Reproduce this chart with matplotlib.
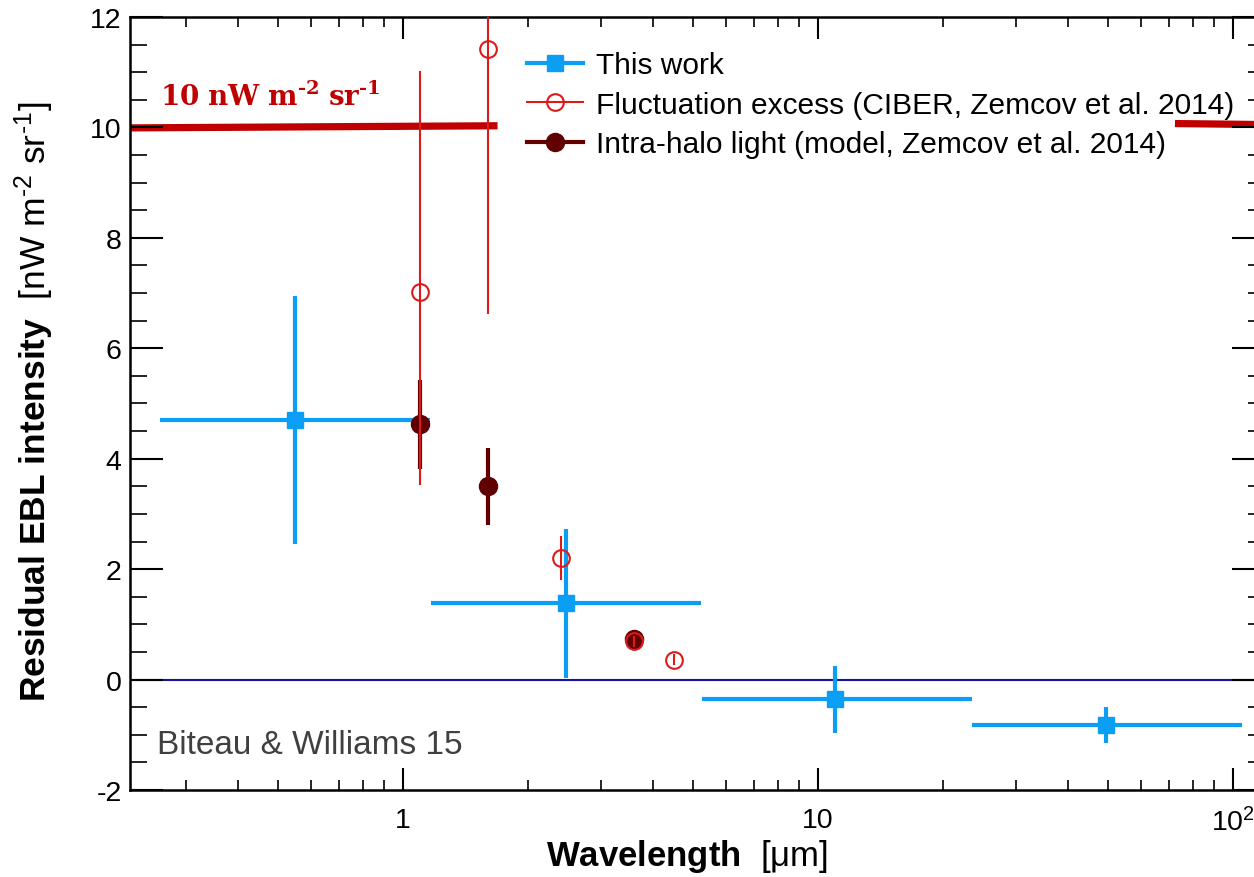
import matplotlib
matplotlib.use("Agg")
import matplotlib.pyplot as plt
from matplotlib.lines import Line2D
from matplotlib.ticker import FixedLocator, MultipleLocator, LogLocator, NullFormatter

plt.rcParams['font.family'] = ['Liberation Sans', 'DejaVu Sans']
plt.rcParams['mathtext.fontset'] = 'custom'
plt.rcParams['mathtext.rm'] = 'Liberation Sans'
plt.rcParams['mathtext.bf'] = 'Liberation Sans:bold'
plt.rcParams['mathtext.it'] = 'Liberation Sans:italic'
plt.rcParams['axes.unicode_minus'] = False

# This work (blue squares)
tw_x = [0.55, 2.47, 11.0, 49.4]
tw_y = [4.7, 1.38, -0.36, -0.82]
tw_yerr = [2.25, 1.35, 0.6, 0.33]
tw_xlo = [0.26, 1.17, 5.25, 23.5]
tw_xhi = [1.16, 5.22, 23.5, 105.0]

# Fluctuation excess (CIBER, Zemcov et al. 2014)
fe_x = [1.1, 1.6, 2.4, 3.6, 4.5]
fe_y = [7.02, 11.42, 2.2, 0.69, 0.36]
fe_err_lo = [3.5, 4.8, 0.4, 0.1, 0.1]
fe_err_hi = [4.0, 4.8, 0.4, 0.1, 0.1]

# Intra-halo light (model, Zemcov et al. 2014)
ihl_x = [1.1, 1.6, 3.6]
ihl_y = [4.62, 3.5, 0.73]
ihl_err = [0.8, 0.7, 0.1]

# 10 nW m-2 sr-1 reference segments
ref_left_x = [0.2, 1.69]
ref_left_y = [9.99, 10.03]
ref_right_x = [72.5, 125.0]
ref_right_y = [10.07, 10.05]

blue = '#0a9ff5'
red = '#dd1a1a'
dark = '#600000'
refred = '#c00000'

fig = plt.figure(figsize=(12.54, 8.78), dpi=100)
ax = fig.add_axes([0.10367, 0.0991, 0.9051, 0.8804])

ax.axhline(0, color='#1414a0', lw=1.5, zorder=1)

ax.plot(ref_left_x, ref_left_y, color=refred, lw=5.2, solid_capstyle='butt', zorder=1.5)
ax.plot(ref_right_x, ref_right_y, color=refred, lw=5.2, solid_capstyle='butt', zorder=1.5)

xerr = [[x - lo for x, lo in zip(tw_x, tw_xlo)], [hi - x for x, hi in zip(tw_x, tw_xhi)]]
ax.errorbar(tw_x, tw_y, yerr=tw_yerr, xerr=xerr, fmt='s', color=blue, ms=11,
            elinewidth=3, capsize=0, zorder=3)
ax.errorbar(ihl_x, ihl_y, yerr=ihl_err, fmt='o', color=dark, ms=13,
            elinewidth=3, capsize=0, zorder=4)
ax.errorbar(fe_x, fe_y, yerr=[fe_err_lo, fe_err_hi], fmt='o', color=red, mfc='none',
            mec=red, mew=1.5, ms=12, elinewidth=1.5, capsize=0, zorder=5)

ax.set_xscale('log')
ax.set_xlim(0.2199, 119.5)
ax.set_ylim(-2, 12)

ax.xaxis.set_major_locator(FixedLocator([1, 10, 100]))
ax.set_xticklabels(['1', '10', r'10$^2$'])
ax.xaxis.set_minor_locator(LogLocator(base=10, subs=range(2, 10)))
ax.xaxis.set_minor_formatter(NullFormatter())
ax.yaxis.set_major_locator(MultipleLocator(2))
ax.yaxis.set_minor_locator(MultipleLocator(0.5))

ax.tick_params(axis='x', which='major', direction='in', length=15.8, width=1.5,
               top=True, labelsize=20.5, pad=12)
ax.tick_params(axis='x', which='minor', direction='in', length=7.2, width=1.2, top=True)
ax.tick_params(axis='y', which='major', direction='in', length=23.8, width=1.5,
               right=True, labelsize=20.5, pad=6)
ax.tick_params(axis='y', which='minor', direction='in', length=12.2, width=1.2, right=True)
for s in ax.spines.values():
    s.set_linewidth(1.8)

ax.text(0.26, 10.4, r'$\mathbf{10\ nW\ m^{‐2}\ sr^{‐1}}$', color=refred, fontsize=20,
        math_fontfamily='dejavuserif', ha='left', va='baseline')
ax.text(0.256, -1.18, 'Biteau & Williams 15', color='#404040', fontsize=24,
        ha='left', va='center')

handles = [
    Line2D([], [], color=blue, lw=3, marker='s', ms=11),
    Line2D([], [], color=red, lw=1.5, marker='o', ms=12, mfc='none', mew=1.5),
    Line2D([], [], color=dark, lw=3, marker='o', ms=13),
]
labels = ['This work', 'Fluctuation excess (CIBER, Zemcov et al. 2014)',
          'Intra-halo light (model, Zemcov et al. 2014)']
fig.legend(handles, labels, loc='upper left', bbox_to_anchor=(527 / 1254, 1 - 52 / 878),
           frameon=False, fontsize=21.5, handlelength=1.87, handletextpad=0.43,
           labelspacing=0.39, borderpad=0, borderaxespad=0)

fig.text(0.027, 0.542, r'$\mathbf{Residual\ EBL\ intensity}$  [nW m$^{‐2}$ sr$^{‐1}$]',
         rotation=90, ha='center', va='center', fontsize=25.5)
fig.text(0.548, 0.025, r'$\mathbf{Wavelength}$  [μm]', ha='center', va='center', fontsize=25)

fig.savefig('out.png', dpi=100)
